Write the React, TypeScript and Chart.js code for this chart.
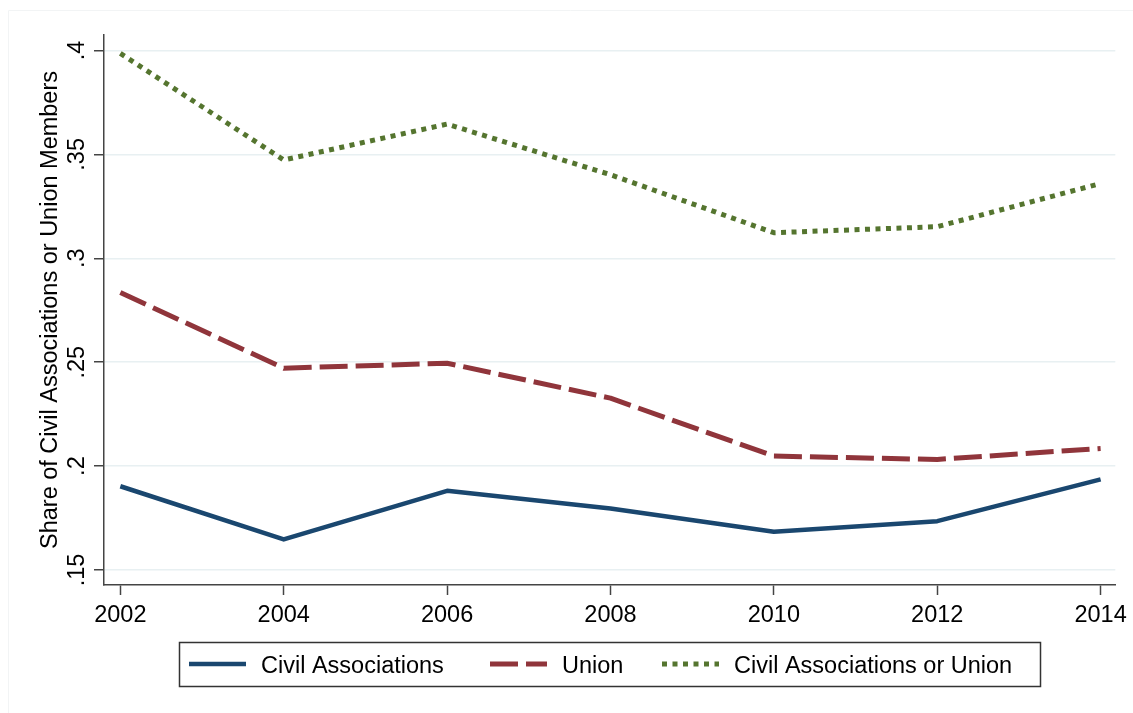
import React, { useEffect, useRef } from "react";
import { Chart, registerables } from "chart.js";

Chart.register(...registerables);

// ---------- data ----------
const YEARS = [2002, 2004, 2006, 2008, 2010, 2012, 2014];
const X_TICKS = [2002, 2004, 2006, 2008, 2010, 2012, 2014];
const Y_TICKS = [0.15, 0.2, 0.25, 0.3, 0.35, 0.4];
const Y_TICK_LABELS = [".15", ".2", ".25", ".3", ".35", ".4"];
const SERIES_NAMES = ["Civil Associations", "Union", "Civil Associations or Union"];
const CIVIL = [0.1903, 0.1647, 0.1881, 0.1796, 0.1684, 0.1735, 0.1936];
const UNION = [0.2835, 0.2471, 0.2495, 0.2327, 0.2048, 0.2032, 0.2085];
const EITHER = [0.3986, 0.3473, 0.3646, 0.3402, 0.3123, 0.3152, 0.336];
const Y_TITLE = "Share of Civil Associations or Union Members";

const FONT = "'Liberation Sans', Arial, Helvetica, sans-serif";
const FONT_SIZE = 23.5;
const W = 1133;
const H = 713;

const COLORS = ["#1a476f", "#90353b", "#55752f"];
const WIDTHS = [4.5, 5, 5];
const DASHES: number[][] = [[], [28, 8], [5, 5.5]];

const framePlugin = {
  id: "frame",
  beforeDraw(chart: any) {
    const ctx = chart.ctx;
    ctx.save();
    ctx.strokeStyle = "#f2f4f5";
    ctx.lineWidth = 1;
    ctx.beginPath();
    ctx.moveTo(8.5, H);
    ctx.lineTo(8.5, 10.5);
    ctx.lineTo(W, 10.5);
    ctx.stroke();
    ctx.restore();
  },
};

const legendPlugin = {
  id: "boxLegend",
  afterDraw(chart: any) {
    const ctx = chart.ctx;
    const ca = chart.chartArea;
    const boxW = 861;
    const boxH = 44;
    const left = Math.round((ca.left + ca.right) / 2 - boxW / 2);
    const top = 642;
    ctx.save();
    ctx.strokeStyle = "#333";
    ctx.lineWidth = 1.5;
    ctx.strokeRect(left + 0.5, top + 0.5, boxW, boxH);
    const keyOffsets = [10, 311, 483];
    const sampleLen = 57;
    const textOffset = 72;
    const midY = top + 22;
    chart.data.datasets.forEach((ds: any, i: number) => {
      const x0 = left + keyOffsets[i];
      ctx.save();
      ctx.strokeStyle = ds.borderColor;
      ctx.lineWidth = ds.borderWidth;
      ctx.lineCap = "butt";
      ctx.setLineDash(ds.borderDash || []);
      ctx.beginPath();
      ctx.moveTo(x0, midY);
      ctx.lineTo(x0 + sampleLen, midY);
      ctx.stroke();
      ctx.restore();
      ctx.fillStyle = "#000";
      ctx.font = `${FONT_SIZE}px ${FONT}`;
      ctx.textAlign = "left";
      ctx.textBaseline = "alphabetic";
      ctx.fillText(ds.label, x0 + textOffset, midY + 8.5);
    });
    ctx.restore();
  },
};

export default function App() {
  const ref = useRef<HTMLCanvasElement | null>(null);

  useEffect(() => {
    if (!ref.current) return;
    const series = [CIVIL, UNION, EITHER];
    const chart = new Chart(ref.current, {
      type: "line",
      data: {
        datasets: series.map((vals, i) => ({
          label: SERIES_NAMES[i],
          data: YEARS.map((yr, j) => ({ x: yr, y: vals[j] })),
          borderColor: COLORS[i],
          backgroundColor: COLORS[i],
          borderWidth: WIDTHS[i],
          borderDash: DASHES[i],
          borderCapStyle: "butt",
          borderJoinStyle: "round",
          pointRadius: 0,
          pointHoverRadius: 0,
          tension: 0,
          fill: false,
        })),
      },
      options: {
        responsive: false,
        maintainAspectRatio: false,
        animation: false,
        events: [],
        layout: { padding: { left: 0, top: 35, right: 17, bottom: 78 } },
        plugins: {
          legend: { display: false },
          tooltip: { enabled: false },
          title: { display: false },
        },
        scales: {
          x: {
            type: "linear",
            min: 2001.8,
            max: 2014.18,
            afterFit: (s: any) => {
              s.height = 50;
            },
            afterBuildTicks: (s: any) => {
              s.ticks = X_TICKS.map((v) => ({ value: v }));
            },
            grid: {
              display: true,
              drawOnChartArea: false,
              drawTicks: true,
              tickLength: 10,
              tickColor: "#444",
              tickWidth: 1.5,
            },
            border: { display: true, color: "#444", width: 1.5 },
            ticks: {
              padding: 6,
              color: "#000",
              font: { family: FONT, size: FONT_SIZE },
              maxRotation: 0,
              minRotation: 0,
              autoSkip: false,
              callback: (v: any) => String(v),
            },
          },
          y: {
            type: "linear",
            min: 0.14278,
            max: 0.40745,
            afterFit: (s: any) => {
              s.width = 104;
            },
            afterBuildTicks: (s: any) => {
              s.ticks = Y_TICKS.map((v) => ({ value: v }));
            },
            grid: {
              display: true,
              drawOnChartArea: true,
              drawTicks: true,
              tickLength: 10,
              color: "#e8f0f2",
              lineWidth: 1.5,
              tickColor: "#444",
              tickWidth: 1.5,
            },
            border: { display: true, color: "#444", width: 1.5 },
            ticks: {
              padding: 0,
              color: "#000",
              crossAlign: "center",
              minRotation: 90,
              maxRotation: 90,
              autoSkip: false,
              font: { family: FONT, size: FONT_SIZE },
              callback: (v: any) => {
                const idx = Y_TICKS.findIndex((t) => Math.abs(t - v) < 1e-9);
                return idx >= 0 ? Y_TICK_LABELS[idx] : "";
              },
            },
            title: {
              display: true,
              text: Y_TITLE,
              color: "#000",
              font: { family: FONT, size: FONT_SIZE },
              padding: { top: 36, bottom: 0 },
            },
          },
        },
      } as any,
      plugins: [framePlugin, legendPlugin],
    });
    return () => chart.destroy();
  }, []);

  return (
    <div style={{ position: "absolute", left: 0, top: 0, width: W, height: H, background: "#fff" }}>
      <canvas ref={ref} width={W} height={H} style={{ display: "block" }} />
    </div>
  );
}
